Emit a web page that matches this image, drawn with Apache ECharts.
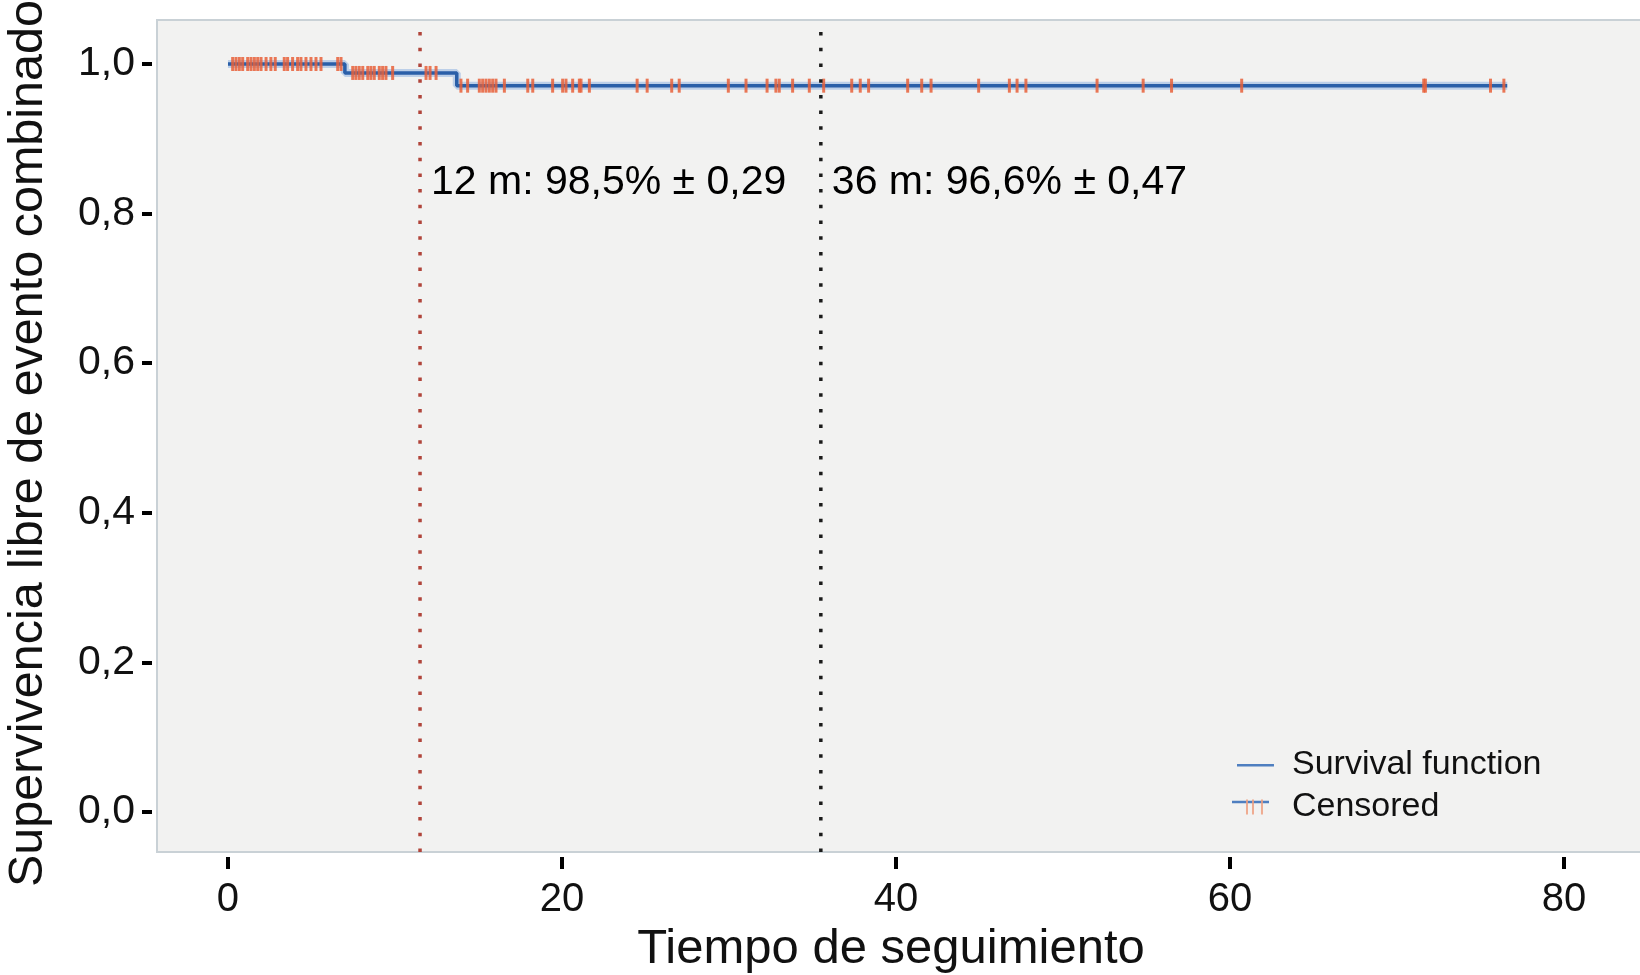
<!DOCTYPE html>
<html>
<head>
<meta charset="utf-8">
<script src="https://cdn.jsdelivr.net/npm/echarts@6/dist/echarts.min.js"></script>
<style>
html,body{margin:0;padding:0;background:#fff;}
#chart{width:1640px;height:975px;}
</style>
</head>
<body>
<div id="chart"></div>
<script>
// Survival step function (time, survival)
const stepTimes = [0, 7.0, 13.7, 76.6];
const stepValues = [1.0, 0.988, 0.971, 0.971];
// Censored observations (months)
const censorTimes = [
  0.28,0.48,0.68,0.88,1.18,1.38,1.58,1.78,1.98,2.28,2.57,2.83,3.37,3.57,3.87,4.17,4.37,4.67,4.97,5.27,5.57,6.57,6.77,
  7.47,7.66,7.86,8.07,8.37,8.56,8.76,9.06,9.26,9.46,9.86,11.86,12.1,12.46,
  13.95,14.35,15.05,15.25,15.45,15.65,15.85,16.05,16.55,17.95,18.25,19.44,20.04,20.24,20.64,21.04,21.14,21.64,
  24.5,25.1,26.57,27.02,29.96,31.02,32.28,32.81,33.01,33.81,34.81,35.67,37.35,37.86,38.36,
  40.7,41.54,42.1,44.95,46.79,47.25,47.78,52.04,54.8,56.5,60.7,71.6,71.7,75.6,76.4
];
// Reference lines and annotations
const refLineTimes = [11.5, 35.5];
const refLineColors = ['#b0443a', '#1a1a1a'];
const annotationTexts = ['12 m: 98,5% \u00b1 0,29', '36 m: 96,6% \u00b1 0,47'];
const annotationY = 0.841;
// Axis ticks
const xTicks = [0, 20, 40, 60, 80];
const yTicks = [0, 0.2, 0.4, 0.6, 0.8, 1.0];

const X_MIN = -4.25, X_MAX = 84.85, Y_MIN = -0.0535, Y_MAX = 1.0588;

function survivalAt(t) {
  let v = stepValues[0];
  for (let i = 0; i < stepTimes.length; i++) { if (t >= stepTimes[i]) v = stepValues[i]; }
  return v;
}

const stepData = stepTimes.map((t, i) => [t, stepValues[i]]);
const censorData = censorTimes.map(t => [t, survivalAt(t)]);
const FONT = '"Liberation Sans", Arial, Helvetica, sans-serif';

const series = [
  {
    type: 'line', step: 'end', data: stepData, symbol: 'none', silent: true,
    lineStyle: { color: '#8fb3e0', width: 8, opacity: 0.55 }, z: 2
  },
  {
    name: 'Survival function', type: 'line', step: 'end', data: stepData, symbol: 'none',
    lineStyle: { color: '#2a5fa8', width: 3.5 }, itemStyle: { color: '#2a5fa8' }, z: 3
  },
  {
    name: 'Censored', type: 'scatter', data: censorData, symbol: 'rect', symbolSize: [3, 14],
    itemStyle: { color: '#e8603a', opacity: 0.85 }, z: 4
  }
];
refLineTimes.forEach((t, i) => {
  series.push({
    type: 'line', data: [[t, Y_MIN], [t, Y_MAX]], symbol: 'none', silent: true,
    lineStyle: { color: refLineColors[i], width: 3.5, type: [3.5, 12.2], cap: 'butt' }, z: 5
  });
  series.push({
    type: 'scatter', data: [[t, annotationY]], symbolSize: 0, silent: true,
    itemStyle: { opacity: 1 },
    label: { show: true, position: 'right', distance: 11, formatter: annotationTexts[i],
      fontSize: 41, color: '#000', opacity: 1, fontFamily: FONT }, z: 6
  });
});

const chart = echarts.init(document.getElementById('chart'), null, { renderer: 'canvas' });
chart.setOption({
  backgroundColor: '#ffffff',
  animation: false,
  grid: { left: 157, top: 20, right: -5, bottom: 123, show: true, outerBoundsMode: 'none', containLabel: false,
    backgroundColor: '#f2f2f1', borderColor: '#c9d1d6', borderWidth: 2 },
  xAxis: {
    type: 'value', min: X_MIN, max: X_MAX, offset: 5,
    name: 'Tiempo de seguimiento', nameLocation: 'middle', nameGap: 63,
    nameTextStyle: { fontSize: 49, color: '#111', fontFamily: FONT, padding: [0, 20, 0, 0] },
    axisLine: { show: false, onZero: false },
    splitLine: { show: false },
    axisTick: { show: true, length: 12, customValues: xTicks, lineStyle: { color: '#000', width: 4 } },
    axisLabel: { customValues: xTicks, fontSize: 40, color: '#111', fontFamily: FONT, margin: 23 }
  },
  yAxis: {
    type: 'value', min: Y_MIN, max: Y_MAX, offset: 5,
    name: 'Supervivencia libre de evento combinado', nameLocation: 'middle', nameGap: 99, nameRotate: 90,
    nameTextStyle: { fontSize: 48.5, color: '#111', fontFamily: FONT, padding: [0, 15, 0, 0] },
    axisLine: { show: false, onZero: false },
    splitLine: { show: false },
    axisTick: { show: true, length: 10, customValues: yTicks, lineStyle: { color: '#000', width: 4 } },
    axisLabel: { customValues: yTicks, fontSize: 41, color: '#111', fontFamily: FONT, margin: 17,
      formatter: v => v.toFixed(1).replace('.', ',') }
  },
  legend: {
    orient: 'vertical', left: 1232, top: 739, itemGap: 0, itemWidth: 37, itemHeight: 15,
    textStyle: { fontSize: 34, color: '#111', fontFamily: FONT, lineHeight: 42, padding: [0, 0, 0, 13] },
    data: [
      { name: 'Survival function', icon: 'path://M0,0h0.01v0.01h-0.01z M0,6.5h37v2.5h-37z M37,15h0.01v0.01h-0.01z',
        itemStyle: { color: '#4f7fc0' } },
      { name: 'Censored', icon: 'path://M0,0h0.01v0.01h-0.01z M9,0h2v15h-2z M15,0h2v15h-2z M24,0h2v15h-2z M37,15h0.01v0.01h-0.01z',
        itemStyle: { color: '#eea080' } }
    ]
  },
  graphic: [
    { type: 'line', z: 1, shape: { x1: 1232, y1: 802, x2: 1269, y2: 802 },
      style: { stroke: '#4f7fc0', lineWidth: 2.5 } }
  ],
  series: series
});
</script>
</body>
</html>
